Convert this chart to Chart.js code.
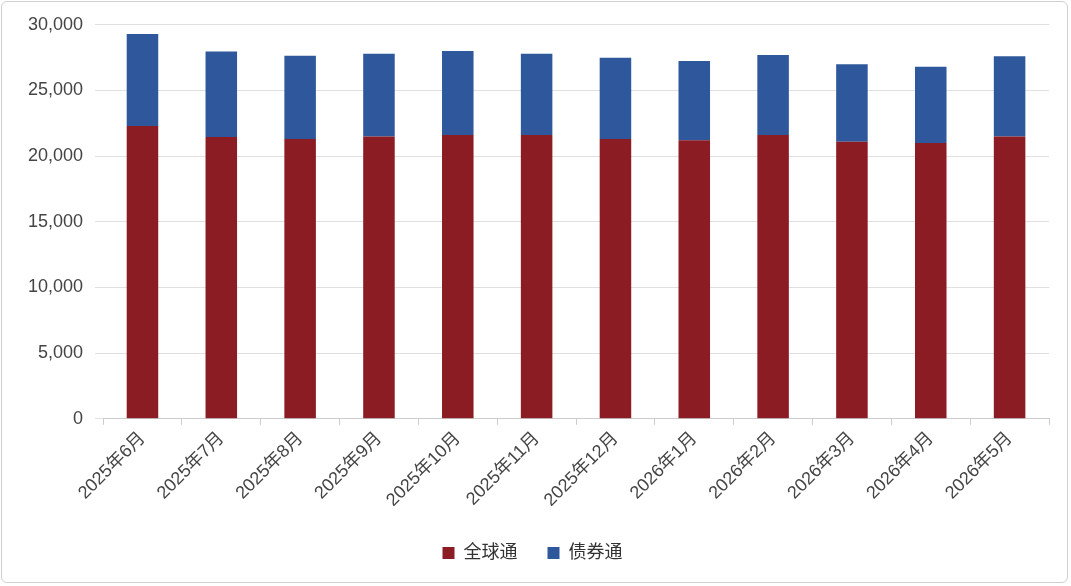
<!DOCTYPE html>
<html><head><meta charset="utf-8">
<script src="https://cdn.jsdelivr.net/npm/chart.js@4"></script>
<style>
html,body{margin:0;padding:0;background:#fff;}
#wrap{position:absolute;left:1px;top:1px;width:1067px;height:582px;border:1px solid #d0d0d0;border-radius:6px;box-sizing:border-box;}
canvas{display:block;}
</style></head><body>
<div id="wrap"><canvas id="c"></canvas></div>
<script>
const categories = ["2025年6月","2025年7月","2025年8月","2025年9月","2025年10月","2025年11月","2025年12月","2026年1月","2026年2月","2026年3月","2026年4月","2026年5月"];
const globalLink = [22300,21460,21300,21500,21600,21600,21300,21200,21600,21100,21000,21500];
const bondLink = [7000,6500,6350,6300,6400,6200,6200,6050,6100,5900,5800,6100];
const yTicks = [0,5000,10000,15000,20000,25000,30000];
const FONT = "'Liberation Sans','Noto Sans CJK SC',sans-serif";
new Chart(document.getElementById('c'), {
  type: 'bar',
  data: { labels: categories, datasets: [
    { label: '全球通', data: globalLink, backgroundColor: '#8C1C24', barPercentage: 0.4, categoryPercentage: 1 },
    { label: '债券通', data: bondLink, backgroundColor: '#2E589B', barPercentage: 0.4, categoryPercentage: 1 }
  ]},
  options: {
    responsive: true, maintainAspectRatio: false, animation: false,
    layout: { padding: { left: 14, right: 18, top: 21, bottom: 10 } },
    plugins: {
      legend: { position: 'bottom', labels: { font: { family: FONT, size: 18 }, color: '#333', boxWidth: 12, boxHeight: 12, padding: 30 } },
      tooltip: { enabled: false }
    },
    scales: {
      x: { stacked: true, grid: { drawOnChartArea: false, drawTicks: true, tickLength: 6, color: '#ccc' }, border: { color: '#ccc' },
           ticks: { font: { family: FONT, size: 18 }, color: '#444', maxRotation: 45, minRotation: 45 } },
      y: { stacked: true, min: 0, max: 30000, afterBuildTicks: a => { a.ticks = yTicks.map(v => ({ value: v })); },
           grid: { color: '#e0e0e0' }, border: { display: false },
           ticks: { font: { family: FONT, size: 18 }, color: '#444', padding: 12, callback: v => v.toLocaleString('en-US') } }
    }
  }
});
</script>
</body></html>
